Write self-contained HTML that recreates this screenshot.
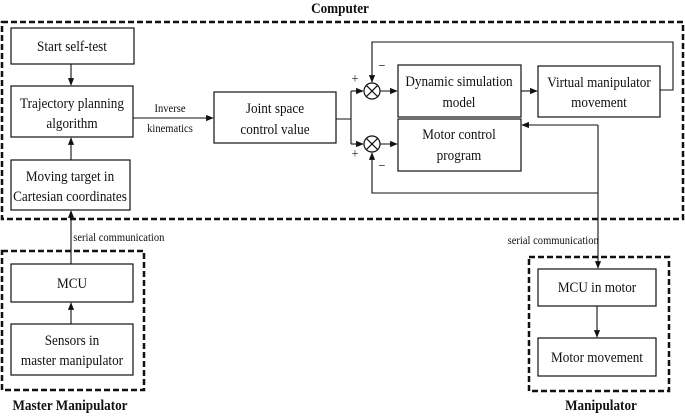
<!DOCTYPE html>
<html><head><style>
html,body{margin:0;padding:0;background:#fff;}
svg text{font-family:"Liberation Serif",serif;fill:#111;transform-box:fill-box;transform-origin:center;transform:scaleX(0.88);}
</style></head><body>
<svg width="685" height="415" viewBox="0 0 685 415" xmlns="http://www.w3.org/2000/svg">
<defs>
<marker id="a" viewBox="0 0 10 10" refX="9" refY="5" markerWidth="7" markerHeight="7" orient="auto"><path d="M0,1 L10,5 L0,9z" fill="#111"/></marker>
</defs>
<g fill="none" stroke="#111">
<rect x="2" y="22" width="681" height="197" stroke-width="2.5" stroke-dasharray="6,3"/>
<rect x="2" y="251" width="142" height="139" stroke-width="2.5" stroke-dasharray="6,3"/>
<rect x="529" y="257" width="140" height="134" stroke-width="2.5" stroke-dasharray="6,3"/>
<g stroke-width="1.2">
<rect x="11" y="28" width="123" height="36"/>
<rect x="11" y="86" width="122" height="51"/>
<rect x="11" y="160" width="119" height="50"/>
<rect x="214" y="92" width="122" height="51"/>
<rect x="398" y="65" width="123" height="52"/>
<rect x="538" y="66" width="122" height="51"/>
<rect x="398" y="119" width="123" height="52"/>
<rect x="11" y="264" width="122" height="38"/>
<rect x="11" y="324" width="122" height="51"/>
<rect x="538" y="269" width="118" height="37"/>
<rect x="538" y="338" width="118" height="38"/>
<circle cx="372" cy="91" r="8"/>
<circle cx="372" cy="144" r="8"/>
<path d="M366.3,85.3 L377.7,96.7 M377.7,85.3 L366.3,96.7"/>
<path d="M366.3,138.3 L377.7,149.7 M377.7,138.3 L366.3,149.7"/>
</g>
<g stroke-width="1.1">
<path d="M71,64 V85" marker-end="url(#a)"/>
<path d="M71,160 V138" marker-end="url(#a)"/>
<path d="M133,118 H213" marker-end="url(#a)"/>
<path d="M336,119 H351 M351,91 V144"/>
<path d="M351,91 H363" marker-end="url(#a)"/>
<path d="M351,144 H363" marker-end="url(#a)"/>
<path d="M380,91 H397" marker-end="url(#a)"/>
<path d="M380,144 H397" marker-end="url(#a)"/>
<path d="M521,91 H537" marker-end="url(#a)"/>
<path d="M660,90 H673 V42 H372 V82" marker-end="url(#a)"/>
<path d="M598,125 H522" marker-end="url(#a)"/>
<path d="M598,125 V268" marker-end="url(#a)"/>
<path d="M598,193 H372 V153" marker-end="url(#a)"/>
<path d="M71,264 V211" marker-end="url(#a)"/>
<path d="M71,324 V303" marker-end="url(#a)"/>
<path d="M597,306 V337" marker-end="url(#a)"/>
</g>
</g>
<g font-size="15" text-anchor="middle">
<text x="340" y="13" font-weight="bold" font-size="15">Computer</text>
<text x="72" y="51">Start self-test</text>
<text x="72" y="108">Trajectory planning</text>
<text x="72" y="128">algorithm</text>
<text x="70" y="181">Moving target in</text>
<text x="70" y="201">Cartesian coordinates</text>
<text x="275" y="113">Joint space</text>
<text x="275" y="134">control value</text>
<text x="459" y="86">Dynamic simulation</text>
<text x="459" y="107">model</text>
<text x="599" y="87">Virtual manipulator</text>
<text x="599" y="107">movement</text>
<text x="459" y="139">Motor control</text>
<text x="459" y="160">program</text>
<text x="72" y="288">MCU</text>
<text x="72" y="345">Sensors in</text>
<text x="72" y="365">master manipulator</text>
<text x="597" y="292">MCU in motor</text>
<text x="597" y="362">Motor movement</text>
<text x="70" y="410" font-weight="bold">Master Manipulator</text>
<text x="601" y="410" font-weight="bold">Manipulator</text>
</g>
<g font-size="12">
<text x="170" y="112" text-anchor="middle">Inverse</text>
<text x="170" y="132" text-anchor="middle">kinematics</text>
<text x="67" y="241">serial communication</text>
<text x="605" y="244" text-anchor="end">serial communication</text>
<text x="351" y="83" font-size="14">+</text>
<text x="351" y="158" font-size="14">+</text>
<text x="378" y="70" font-size="14">−</text>
<text x="378" y="170" font-size="14">−</text>
</g>
</svg>
</body></html>
